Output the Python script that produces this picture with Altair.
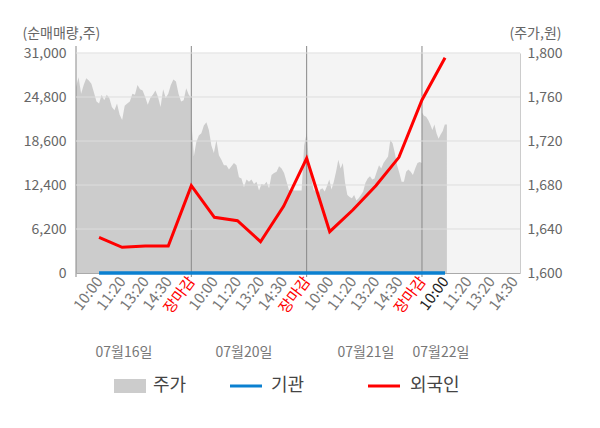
import altair as alt
import pandas as pd
import numpy as np

# ---- data ----
day1_price = [1769, 1778, 1763, 1771, 1777, 1775, 1772, 1764, 1756, 1754, 1762, 1757, 1762, 1759,
              1751, 1748, 1754, 1744, 1739, 1752, 1754, 1756, 1763, 1762, 1771, 1767, 1766, 1760,
              1753, 1759, 1762, 1766, 1760, 1751, 1767, 1759, 1763, 1771, 1776, 1774, 1763, 1756,
              1757, 1768, 1762, 1759]
day2_price = [1739, 1706, 1719, 1725, 1727, 1734, 1737, 1730, 1716, 1709, 1721, 1707, 1703, 1698,
              1698, 1694, 1697, 1700, 1698, 1687, 1686, 1678, 1685, 1683, 1685, 1681, 1683, 1675,
              1681, 1680, 1683, 1677, 1689, 1691, 1692, 1697, 1695, 1691, 1683, 1675, 1677, 1675,
              1675, 1675, 1675, 1716, 1727]
day3_price = [1730, 1700, 1688, 1676, 1674, 1671, 1676, 1677, 1674, 1679, 1685, 1676, 1683, 1692,
              1703, 1695, 1700, 1682, 1671, 1669, 1668, 1671, 1666, 1668, 1671, 1674, 1682, 1686,
              1688, 1685, 1686, 1692, 1698, 1695, 1700, 1703, 1706, 1721, 1718, 1709, 1698, 1691,
              1683, 1683, 1692, 1694, 1692, 1689, 1695, 1700, 1701, 1700]
day4_price = [1746, 1743, 1742, 1739, 1735, 1730, 1735, 1727, 1722, 1726, 1729, 1735, 1735]

flow_slots = list(range(1, 17))
foreign = [5030, 3620, 3800, 3800, 12300, 7850, 7370, 4410, 9400, 16160, 5820, 8880,
           12300, 16300, 24380, 30340]
institution = [0] * 16

slot_names = ["장마감", "10:00", "11:20", "13:20", "14:30"]
tick_slots = list(range(1, 20))
separators = [0, 5, 10, 15]
date_labels = ["07월16일", "07월20일", "07월21일", "07월22일"]
date_pos = [2.08, 7.28, 12.57, 15.82]
left_ticks = [0, 6200, 12400, 18600, 24800, 31000]
right_ticks = [1600, 1640, 1680, 1720, 1760, 1800]

# ---- tables ----
rows = []
for d, arr in enumerate([day1_price, day2_price, day3_price]):
    xs = np.linspace(5 * d, 5 * d + 5, len(arr))
    rows += [{"x": float(x), "price": p} for x, p in zip(xs, arr)]
xs4 = np.linspace(15, 16.08, len(day4_price))
rows += [{"x": float(x), "price": p} for x, p in zip(xs4, day4_price)]
price_df = pd.DataFrame(rows)

flow_df = pd.DataFrame({"x": flow_slots, "외국인": foreign, "기관": institution})
sep_df = pd.DataFrame({"x": separators})
grid_df = pd.DataFrame({"v": left_ticks[1:]})
date_df = pd.DataFrame({"x": date_pos, "label": date_labels})

W, H = 444, 220
FONT = "Noto Sans CJK KR"
xscale = alt.Scale(domain=[0, 19.25], nice=False, zero=False)
lscale = alt.Scale(domain=[0, 31000], nice=False)
rscale = alt.Scale(domain=[1600, 1800], nice=False, zero=False)

names_js = "['" + "','".join(slot_names) + "']"
xaxis = alt.Axis(
    values=tick_slots,
    labelExpr=names_js + "[datum.value % 5]",
    labelAngle=307, labelAlign="right", labelBaseline="middle",
    labelPadding=5, ticks=False, grid=False, domainColor="#aaaaaa",
    labelFontSize=15, labelOverlap=False, labelFlush=False, title=None,
    labelColor={"expr": "datum.value % 5 == 0 ? '#ff0000' : (datum.value == 16 ? '#222222' : '#777777')"},
)
laxis = alt.Axis(
    orient="left", values=left_ticks, labelExpr="format(datum.value, ',')",
    grid=False, ticks=False, domain=False,
    labelPadding=10, labelColor="#666666", labelFontSize=14,
    title="(순매매량,주)", titleAngle=0, titleAlign="left", titleBaseline="middle",
    titleX=-54, titleY=-20, titleColor="#666666", titleFontSize=14, titleFontWeight="normal")
raxis = alt.Axis(
    orient="right", values=right_ticks, labelExpr="format(datum.value, ',')",
    grid=False, ticks=False,
    domainColor="#cccccc", labelPadding=7, labelColor="#666666", labelFontSize=14,
    title="(주가,원)", titleAngle=0, titleAlign="left", titleBaseline="middle",
    titleX=-11, titleY=-20, titleColor="#666666", titleFontSize=14, titleFontWeight="normal")

X = alt.X("x:Q", scale=xscale, axis=xaxis)

area = alt.Chart(price_df).mark_area(color="#cccccc", opacity=1).encode(
    x=X,
    y=alt.Y("price:Q", scale=rscale, axis=raxis),
    y2=alt.datum(1600),
)

seps = alt.Chart(sep_df).mark_rule(color="#888888", strokeWidth=1).encode(
    x=X,
    y=alt.value(-7), y2=alt.value(H + 4),
)

grid = alt.Chart(grid_df).mark_rule(color="#dddddd", strokeWidth=1).encode(
    y=alt.Y("v:Q", scale=lscale, axis=laxis),
)

blue = alt.Chart(flow_df).mark_line(color="#0b80d0", strokeWidth=3.5).encode(
    x=X,
    y=alt.Y("기관:Q", scale=lscale, axis=laxis),
)

red = alt.Chart(flow_df).mark_line(color="#ff0000", strokeWidth=3).encode(
    x=X,
    y=alt.Y("외국인:Q", scale=lscale, axis=laxis),
)

lines = alt.layer(grid, blue, red)

dates = alt.Chart(date_df).mark_text(fontSize=14, color="#777777", baseline="middle").encode(
    x=X,
    y=alt.value(300),
    text="label:N",
)

one = pd.DataFrame({"a": [0]})
leg_rect = alt.Chart(one).mark_rect(color="#cccccc").encode(
    x=alt.value(38), x2=alt.value(70), y=alt.value(326), y2=alt.value(340))
leg_blue = alt.Chart(one).mark_rule(color="#0b80d0", strokeWidth=3).encode(
    x=alt.value(154), x2=alt.value(186), y=alt.value(333))
leg_red = alt.Chart(one).mark_rule(color="#ff0000", strokeWidth=3).encode(
    x=alt.value(292), x2=alt.value(324), y=alt.value(333))
leg_t1 = alt.Chart(one).mark_text(fontSize=18, color="#444444", align="left", baseline="middle").encode(
    x=alt.value(77), y=alt.value(333), text=alt.value("주가"))
leg_t2 = alt.Chart(one).mark_text(fontSize=18, color="#444444", align="left", baseline="middle").encode(
    x=alt.value(195), y=alt.value(333), text=alt.value("기관"))
leg_t3 = alt.Chart(one).mark_text(fontSize=18, color="#444444", align="left", baseline="middle").encode(
    x=alt.value(334), y=alt.value(333), text=alt.value("외국인"))

chart = alt.layer(area, seps, lines, dates, leg_rect, leg_blue, leg_red, leg_t1, leg_t2, leg_t3).resolve_scale(
    y="independent"
).properties(
    width=W, height=H,
    padding={"left": 68, "top": 45, "right": 60, "bottom": 140},
    autosize=alt.AutoSizeParams(type="none"),
).configure(font=FONT).configure_view(fill="#f4f4f4", stroke="transparent")

chart.save("out.html", embed_options={"renderer": "svg", "actions": False})
